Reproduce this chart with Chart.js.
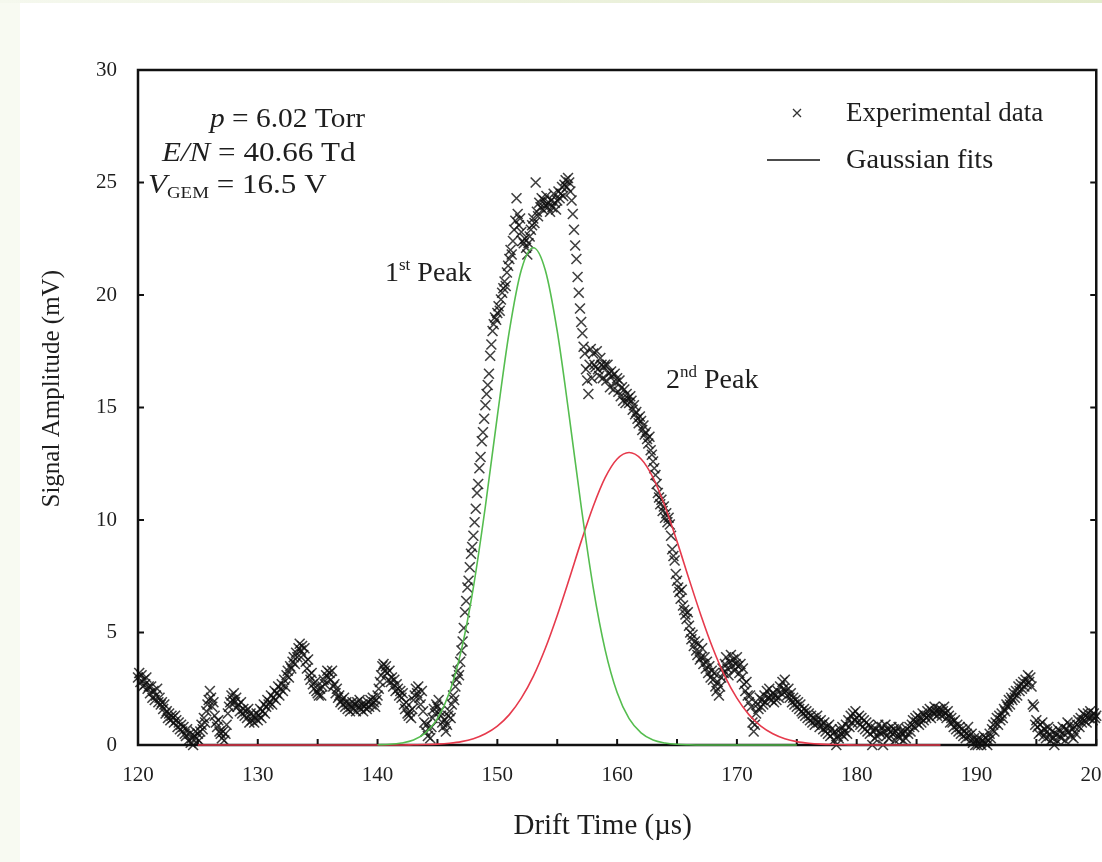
<!DOCTYPE html>
<html>
<head>
<meta charset="utf-8">
<title>Drift time spectrum</title>
<script src="https://cdn.jsdelivr.net/npm/chart.js@4.4.1/dist/chart.umd.min.js"></script>
<style>
  html, body { margin: 0; padding: 0; background: #fff; overflow: hidden; }
  body { width: 1102px; height: 862px; position: relative; }
  #edgeLeft { position: absolute; left: 0; top: 0; width: 20px; height: 862px; background: #f8faf2; }
  #edgeTop { position: absolute; left: 0; top: 0; width: 1102px; height: 3px; background: linear-gradient(to right, #f5f8ee, #e3ebcc); }
  #wrap { position: absolute; left: 0; top: 0; width: 1130px; height: 862px; }
</style>
</head>
<body>
<div id="edgeLeft"></div>
<div id="edgeTop"></div>
<div id="wrap"><canvas id="driftChart" width="1130" height="862"></canvas></div>
<script>
// DATA
// experimental trace, sampled every 0.1 µs from 120 µs (one row = 1 µs)
const driftStart = 120;
const driftStep = 0.1;
const signalData = [
  3.0, 3.2, 2.8, 3.1, 2.6, 2.9, 2.7, 3.0, 2.5, 2.6,
  2.3, 2.6, 2.1, 2.4, 2.0, 2.2, 2.5, 1.9, 2.1, 1.8,
  1.9, 1.6, 1.8, 1.4, 1.5, 1.2, 1.4, 1.1, 1.3, 1.2,
  1.0, 1.3, 1.1, 0.8, 1.0, 0.7, 0.9, 0.6, 0.8, 0.5,
  0.4, 0.7, 0.2, 0.5, 0.1, 0.3, 0.0, 0.4, 0.6, 0.3,
  0.5, 0.2, 0.6, 0.9, 0.7, 1.2, 1.0, 1.5, 1.8, 2.0,
  2.4, 2.1, 1.7, 1.9, 1.3, 1.0, 0.8, 1.1, 0.6, 0.5,
  0.3, 0.6, 0.2, 0.5, 0.9, 1.4, 1.7, 1.9, 2.2, 2.0,
  2.3, 1.9, 2.1, 1.7, 1.8, 1.5, 1.9, 1.4, 1.6, 1.3,
  1.5, 1.2, 1.6, 1.0, 1.4, 1.1, 1.3, 1.0, 1.2, 1.4,
  1.1, 1.3, 1.6, 1.2, 1.5, 1.8, 1.4, 1.7, 2.0, 1.8,
  1.9, 2.2, 1.8, 2.1, 2.4, 2.0, 2.3, 2.6, 2.2, 2.5,
  2.7, 2.4, 2.9, 2.6, 3.1, 3.3, 3.0, 3.5, 3.4, 3.7,
  3.9, 3.6, 4.1, 3.9, 4.3, 4.5, 4.2, 4.4, 4.0, 4.3,
  3.7, 3.4, 3.8, 3.1, 2.9, 3.2, 2.7, 2.5, 2.8, 2.4,
  2.3, 2.2, 2.5, 2.2, 2.6, 2.9, 2.7, 3.1, 3.3, 3.0,
  3.2, 2.9, 3.3, 2.6, 2.7, 2.3, 2.5, 2.1, 2.2, 1.9,
  2.0, 1.8, 2.1, 1.7, 1.9, 1.6, 1.8, 1.5, 1.7, 1.9,
  1.6, 1.8, 1.5, 1.9, 1.7, 2.0, 1.6, 1.8, 1.5, 1.7,
  1.8, 1.6, 1.9, 1.7, 2.0, 1.8, 2.1, 1.9, 1.7, 2.0,
  2.2, 2.5, 2.8, 3.1, 3.5, 3.6, 3.3, 3.5, 3.2, 2.9,
  3.3, 2.8, 3.0, 2.6, 2.9, 2.4, 2.7, 2.5, 2.2, 2.4,
  2.1, 2.3, 1.8, 1.6, 1.9, 1.4, 1.3, 1.5, 1.2, 1.6,
  2.0, 2.2, 2.5, 2.3, 2.6, 2.1, 1.8, 2.4, 1.5, 1.0,
  0.6, 0.9, 0.4, 0.7, 0.3, 0.8, 1.2, 1.6, 1.4, 1.8,
  1.7, 2.0, 1.5, 1.3, 1.0, 0.8, 1.1, 0.6, 0.9, 1.3,
  1.5, 1.2, 1.8, 2.2, 2.0, 2.6, 2.9, 3.3, 3.1, 3.7,
  4.2, 4.6, 5.2, 5.9, 6.4, 7.0, 7.3, 7.9, 8.5, 8.8,
  9.3, 9.9, 10.5, 11.2, 11.6, 12.3, 12.8, 13.5, 13.9, 14.5,
  15.1, 15.6, 16.0, 16.5, 17.3, 17.8, 18.4, 18.7, 19.0, 18.9,
  19.2, 19.5, 19.3, 19.8, 20.1, 20.3, 20.6, 20.4, 21.0, 21.3,
  21.6, 22.0, 21.8, 22.4, 22.9, 23.3, 24.3, 23.6, 23.1, 23.4,
  22.8, 22.4, 22.3, 22.5, 22.1, 21.8, 22.3, 22.6, 22.9, 23.1,
  23.4, 23.2, 25.0, 23.7, 23.5, 24.1, 23.9, 24.3, 23.8, 24.2,
  24.0, 24.4, 23.9, 24.1, 23.7, 24.2, 23.9, 24.5, 24.1, 23.8,
  24.2, 24.6, 24.3, 24.5, 24.8, 24.4, 24.9, 25.1, 24.8, 25.2,
  25.0, 24.6, 24.2, 23.6, 22.9, 22.2, 21.6, 20.8, 20.1, 19.4,
  18.8, 18.3, 17.7, 17.4, 16.7, 16.2, 15.6, 16.9, 17.6, 16.3,
  17.4, 16.9, 16.8, 17.5, 16.7, 16.4, 17.2, 16.9, 16.3, 16.8,
  16.9, 16.2, 16.9, 16.5, 15.9, 16.6, 16.4, 15.8, 16.5, 16.1,
  16.3, 15.7, 16.2, 15.5, 15.9, 15.3, 15.8, 15.2, 15.6, 15.4,
  15.2, 15.5, 15.3, 14.9, 15.1, 14.7, 14.8, 14.5, 14.3, 14.6,
  14.4, 14.0, 14.2, 13.8, 13.9, 13.6, 13.4, 13.7, 13.1, 12.9,
  12.6, 12.3, 12.0, 11.6, 11.2, 11.0, 10.7, 10.9, 10.4, 10.6,
  10.1, 10.3, 9.9, 10.1, 9.8, 9.3, 8.7, 8.4, 8.2, 7.6,
  7.3, 7.0, 6.8, 6.5, 6.9, 6.2, 6.0, 5.8, 5.6, 5.9,
  5.3, 5.0, 4.7, 4.9, 4.4, 4.6, 4.2, 4.0, 4.5, 3.8,
  3.9, 4.3, 3.6, 3.9, 3.4, 3.7, 3.2, 3.5, 3.0, 3.3,
  2.9, 3.2, 2.6, 2.4, 2.8, 2.2, 2.6, 3.0, 3.4, 3.2,
  3.6, 3.9, 3.4, 3.1, 3.7, 4.0, 3.5, 3.8, 3.3, 3.6,
  3.9, 3.5, 3.2, 3.6, 3.0, 3.4, 2.7, 2.4, 2.8, 2.2,
  1.9, 2.2, 1.7, 1.0, 0.6, 0.9, 1.4, 1.8, 1.6, 2.1,
  1.7, 2.0, 1.8, 2.2, 1.9, 2.4, 2.1, 2.5, 2.2, 2.0,
  2.3, 1.9, 2.2, 2.0, 2.4, 2.1, 2.6, 2.3, 2.8, 2.5,
  2.9, 2.4, 2.2, 2.5, 2.1, 2.3, 1.9, 2.1, 1.8, 2.0,
  1.7, 1.9, 1.6, 1.8, 1.5, 1.4, 1.6, 1.3, 1.5, 1.2,
  1.4, 1.1, 1.3, 1.0, 1.2, 0.9, 1.1, 1.3, 1.0, 0.8,
  1.1, 0.9, 0.7, 1.0, 0.6, 0.8, 0.5, 0.9, 0.4, 0.7,
  0.5, 0.2, 0.6, 0.0, 0.4, 0.3, 0.7, 0.5, 0.8, 0.4,
  0.6, 0.9, 0.5, 1.1, 0.8, 1.3, 1.0, 1.4, 1.1, 1.5,
  1.2, 1.0, 1.3, 0.9, 1.2, 0.8, 1.1, 0.7, 1.0, 0.6,
  0.9, 0.5, 0.8, 0.0, 0.6, 0.3, 0.7, 0.4, 0.9, 0.6,
  0.5, 0.8, 0.0, 0.6, 0.9, 0.4, 0.7, 0.3, 0.6, 0.8,
  0.5, 0.7, 0.2, 0.6, 0.4, 0.8, 0.3, 0.6, 0.5, 0.2,
  0.6, 0.3, 0.7, 0.5, 0.8, 0.6, 0.9, 1.1, 0.8, 1.2,
  1.0, 1.3, 0.9, 1.2, 1.0, 1.4, 1.1, 1.3, 1.2, 1.5,
  1.3, 1.6, 1.2, 1.5, 1.4, 1.7, 1.5, 1.3, 1.6, 1.4,
  1.6, 1.3, 1.5, 1.7, 1.4, 1.2, 1.5, 1.3, 1.0, 1.2,
  1.0, 0.8, 1.1, 0.7, 0.9, 0.6, 0.8, 0.5, 0.7, 0.4,
  0.6, 0.3, 0.5, 0.8, 0.4, 0.2, 0.5, 0.1, 0.3, 0.0,
  0.2, 0.0, 0.3, 0.1, 0.0, 0.2, 0.4, 0.1, 0.3, 0.0,
  0.2, 0.5, 0.3, 0.7, 0.9, 0.6, 1.0, 1.2, 0.9, 1.3,
  1.1, 1.4, 1.2, 1.6, 1.5, 1.8, 1.7, 2.0, 1.8, 2.1,
  2.0, 2.3, 2.1, 2.4, 2.2, 2.6, 2.4, 2.7, 2.5, 2.8,
  2.6, 2.9, 2.7, 3.1, 2.8, 3.0, 2.6, 1.8, 1.7, 0.9,
  1.1, 0.8, 0.5, 0.9, 0.6, 1.0, 0.4, 0.7, 0.3, 0.6,
  0.8, 0.4, 0.2, 0.6, 0.3, 0.0, 0.5, 0.2, 0.7, 0.4,
  0.6, 0.3, 0.8, 0.5, 0.2, 0.7, 1.0, 0.6, 0.9, 0.4,
  0.7, 0.3, 0.8, 0.5, 0.9, 1.1, 0.8, 1.2, 1.0, 1.4,
  1.1, 1.3, 1.0, 1.4, 1.2, 1.5, 1.3, 1.1, 1.4, 1.2,
  1.3
];

// first peak fit (green)
const fit1Times = [140, 141, 142, 143, 144, 145, 146, 147, 148, 149, 150, 151, 152, 153, 154, 155, 156, 157,
  158, 159, 160, 161, 162, 163, 164, 165, 166, 167, 168, 169, 170, 171, 172, 173, 174, 175];
const fit1Values = [0.01, 0.03, 0.09, 0.22, 0.54, 1.17, 2.33, 4.23, 7.01, 10.6, 14.62, 18.39, 21.11, 22.1, 21.11, 18.39, 14.62, 10.6,
  7.01, 4.23, 2.33, 1.17, 0.54, 0.22, 0.09, 0.03, 0.01, 0, 0, 0, 0, 0, 0, 0, 0, 0];

// second peak fit (red)
const fit2Times = [125, 126, 127, 128, 129, 130, 131, 132, 133, 134, 135, 136, 137, 138, 139, 140, 141, 142,
  143, 144, 145, 146, 147, 148, 149, 150, 151, 152, 153, 154, 155, 156, 157, 158, 159, 160, 161,
  162, 163, 164, 165, 166, 167, 168, 169, 170, 171, 172, 173, 174, 175, 176, 177, 178, 179,
  180, 181, 182, 183, 184, 185, 186, 187];
const fit2Values = [0, 0, 0, 0, 0, 0, 0, 0, 0, 0, 0, 0, 0, 0, 0, 0, 0, 0,
  0.01, 0.02, 0.04, 0.08, 0.15, 0.28, 0.5, 0.84, 1.35, 2.08, 3.05, 4.29, 5.76, 7.38, 9.05, 10.6, 11.88, 12.71, 13.0,
  12.71, 11.88, 10.6, 9.05, 7.38, 5.76, 4.29, 3.05, 2.08, 1.35, 0.84, 0.5, 0.28, 0.15, 0.08, 0.04, 0.02, 0.01,
  0, 0, 0, 0, 0, 0, 0, 0];

const xMin = 120, xMax = 200, xLabelStep = 10, xMarkStep = 5;
const yMin = 0, yMax = 30, yStep = 5;

const serif = '"Liberation Serif", "Times New Roman", serif';
const ink = '#1e1e1e';
const nb = '\u00A0';

const signalPoints = signalData.map((v, i) => ({ x: +(driftStart + i * driftStep).toFixed(2), y: v }));
const fit1Points = fit1Times.map((t, i) => ({ x: t, y: fit1Values[i] }));
const fit2Points = fit2Times.map((t, i) => ({ x: t, y: fit2Values[i] }));

// draw a row of text pieces with their own fonts / offsets (sx = horizontal stretch)
function drawRuns(ctx, x, y, runs, sx) {
  sx = sx || 1;
  ctx.save();
  ctx.translate(x, y);
  ctx.scale(sx, 1);
  let cx = 0;
  runs.forEach(r => {
    ctx.font = r.font;
    ctx.fillText(r.text, cx, r.dy || 0);
    cx += ctx.measureText(r.text).width;
  });
  ctx.restore();
}

// FRAME + INWARD TICKS + LABELS
const framePlugin = {
  id: 'frame',
  beforeDatasetsDraw(chart) {
    const { ctx, chartArea: a, scales } = chart;
    ctx.save();
    ctx.strokeStyle = '#111';
    ctx.lineWidth = 2.5;
    ctx.strokeRect(a.left, a.top, a.right - a.left, a.bottom - a.top);
    ctx.lineWidth = 2;
    ctx.beginPath();
    for (let v = yMin; v <= yMax; v += yStep) {
      const py = scales.y.getPixelForValue(v);
      ctx.moveTo(a.left, py); ctx.lineTo(a.left + 6, py);
      ctx.moveTo(a.right, py); ctx.lineTo(a.right - 6, py);
    }
    for (let t = xMin; t <= xMax; t += xMarkStep) {
      const px = scales.x.getPixelForValue(t);
      ctx.moveTo(px, a.bottom); ctx.lineTo(px, a.bottom - 6);
    }
    ctx.stroke();
    ctx.restore();
  },
  afterDraw(chart) {
    const ctx = chart.ctx;
    ctx.save();
    ctx.fillStyle = ink;
    ctx.textBaseline = 'alphabetic';
    const big = '28px ' + serif, bigIt = 'italic 28px ' + serif, small = '17px ' + serif;
    const leg = '27px ' + serif;

    // conditions
    drawRuns(ctx, 210, 127, [{ text: 'p', font: bigIt }, { text: ' = 6.02 Torr', font: big }], 1.05);
    drawRuns(ctx, 162, 161, [{ text: 'E/N', font: bigIt }, { text: ' = 40.66 Td', font: big }], 1.11);
    drawRuns(ctx, 148, 193, [{ text: 'V', font: bigIt }, { text: 'GEM', font: small, dy: 5 }, { text: ' = 16.5 V', font: big }], 1.11);

    // peak labels
    drawRuns(ctx, 385, 281, [{ text: '1', font: big }, { text: 'st', font: small, dy: -11 }, { text: ' Peak', font: big }]);
    drawRuns(ctx, 666, 388, [{ text: '2', font: big }, { text: 'nd', font: small, dy: -11 }, { text: ' Peak', font: big }]);

    // legend
    ctx.strokeStyle = '#333';
    ctx.lineWidth = 1.3;
    ctx.beginPath();
    ctx.moveTo(793, 109); ctx.lineTo(801, 117);
    ctx.moveTo(801, 109); ctx.lineTo(793, 117);
    ctx.stroke();
    ctx.strokeStyle = '#111';
    ctx.lineWidth = 1.5;
    ctx.beginPath();
    ctx.moveTo(767, 160); ctx.lineTo(820, 160);
    ctx.stroke();
    drawRuns(ctx, 846, 121, [{ text: 'Experimental data', font: leg }]);
    drawRuns(ctx, 846, 168, [{ text: 'Gaussian fits', font: leg }], 1.05);
    ctx.restore();
  }
};

// CHART
new Chart(document.getElementById('driftChart'), {
  type: 'scatter',
  data: {
    datasets: [
      {
        label: 'Experimental data',
        data: signalPoints,
        pointStyle: 'crossRot',
        pointRadius: 7,
        pointBorderWidth: 1.6,
        borderColor: 'rgba(15,15,15,0.8)',
        backgroundColor: 'rgba(0,0,0,0)',
        clip: false,
        order: 2
      },
      {
        label: 'Gaussian fit (1st peak)',
        data: fit1Points,
        showLine: true,
        borderColor: '#55bd4f',
        borderWidth: 1.6,
        pointRadius: 0,
        cubicInterpolationMode: 'monotone',
        clip: false,
        order: 1
      },
      {
        label: 'Gaussian fit (2nd peak)',
        data: fit2Points,
        showLine: true,
        borderColor: '#e63a4c',
        borderWidth: 1.6,
        pointRadius: 0,
        cubicInterpolationMode: 'monotone',
        clip: false,
        order: 1
      }
    ]
  },
  options: {
    responsive: false,
    animation: false,
    devicePixelRatio: 1,
    layout: { padding: { top: 70, right: 33, left: 0, bottom: 0 } },
    plugins: { legend: { display: false }, tooltip: { enabled: false } },
    scales: {
      x: {
        type: 'linear',
        min: xMin,
        max: xMax,
        ticks: { stepSize: xLabelStep, maxRotation: 0, padding: 18, color: ink, font: { family: serif, size: 21 } },
        grid: { display: false, drawTicks: false },
        border: { display: false },
        title: { display: true, text: 'Drift Time (µs)' + nb.repeat(4), color: ink, font: { family: serif, size: 29 }, padding: { top: 0, bottom: 18 } },
        afterFit(scale) { scale.height = 117; }
      },
      y: {
        min: yMin,
        max: yMax,
        ticks: { stepSize: yStep, padding: 21, color: ink, font: { family: serif, size: 21 } },
        grid: { display: false, drawTicks: false },
        border: { display: false },
        title: { display: true, text: nb.repeat(6) + 'Signal Amplitude (mV)', color: ink, font: { family: serif, size: 25 }, padding: { top: 37 } },
        afterFit(scale) { scale.width = 138; }
      }
    }
  },
  plugins: [framePlugin]
});
</script>
</body>
</html>
